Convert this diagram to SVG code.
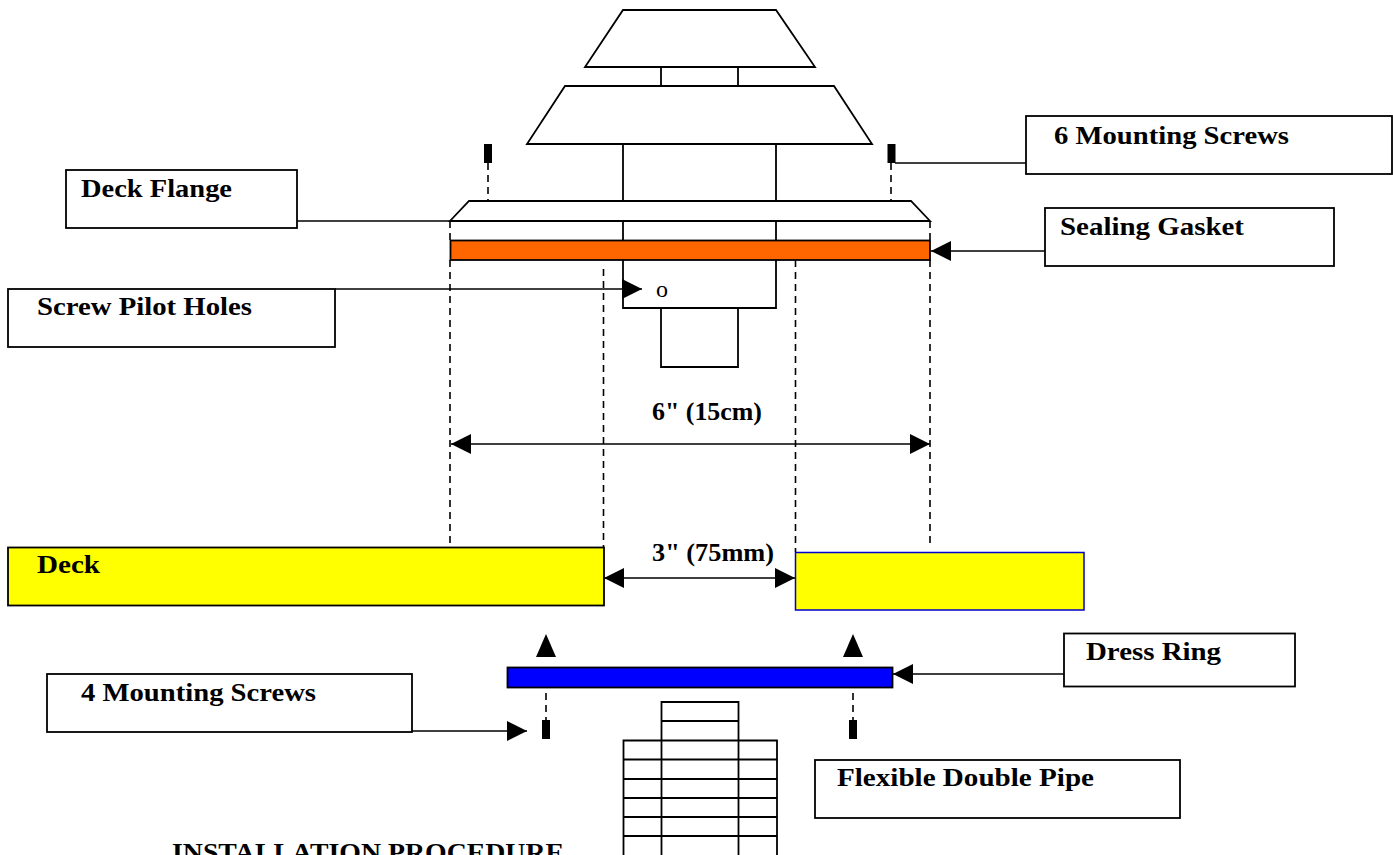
<svg xmlns="http://www.w3.org/2000/svg" width="1393" height="855" viewBox="0 0 1393 855">
<style>
.l{fill:none;stroke:#000;stroke-width:1.800}
.f{fill:#fff;stroke:#000;stroke-width:1.800}
.d{fill:none;stroke:#000;stroke-width:1.600;stroke-dasharray:7 5}
.c{fill:none;stroke:#000;stroke-width:1.500}
.t{font-family:"Liberation Serif","Times New Roman",serif;font-weight:bold;font-size:26px;fill:#000}
.o{font-family:"Liberation Serif","Times New Roman",serif;font-size:24px;fill:#000}
</style>
<defs>
<marker id="a" markerUnits="userSpaceOnUse" markerWidth="21" markerHeight="21" refX="20" refY="10" orient="auto-start-reverse"><path d="M0 0L20 10L0 20Z" fill="#000"/></marker>
</defs>
<rect width="1393" height="855" fill="#fff"/>
<g id="vent-top"><path class="l" d="M623 10H776L815 67H585Z"/><path class="l" d="M661 67V86M738 67V86"/></g>
<g id="vent-mid"><path class="l" d="M565 86H834L872 144H527Z"/><path class="l" d="M623 144V201M776 144V201"/></g>
<g id="deck-flange-part"><path class="l" d="M469 201H911L930 221H450Z"/><path class="l" d="M623 221V240M776 221V240"/></g>
<g id="sealing-gasket-part"><rect x="450.500" y="240.500" width="479.500" height="19.500" fill="#f60" stroke="#000" stroke-width="1.800"/></g>
<g id="lower-body"><path class="l" d="M623 260V308H776V260"/><path class="l" d="M661 308V367H738V308"/><text class="o" x="656" y="297">o</text></g>
<g id="screws-top"><rect x="484" y="144" width="8" height="19" fill="#000"/><rect x="887.500" y="144" width="8" height="19" fill="#000"/></g>
<g id="deck-left"><rect x="8" y="547.500" width="596" height="58" fill="#ff0" stroke="#000" stroke-width="1.800"/><text class="t" x="37" y="573" textLength="63" lengthAdjust="spacingAndGlyphs">Deck</text></g>
<g id="deck-right"><rect x="795.500" y="552.500" width="288.500" height="57.500" fill="#ff0" stroke="#00c" stroke-width="1.500"/></g>
<g id="dress-ring-part"><rect x="507.500" y="667.500" width="385" height="20" fill="#00f" stroke="#000" stroke-width="1.800"/></g>
<g id="screws-bottom"><rect x="542" y="720" width="8" height="19" fill="#000"/><rect x="849" y="720" width="8" height="19" fill="#000"/></g>
<g id="flexible-pipe"><path class="l" d="M661.500 855V702H738.500V855M661.500 721H738.500M623.500 855V740.500H777V855M623.500 740.500H777M623.500 759.500H777M623.500 779H777M623.500 798H777M623.500 817H777M623.500 836H777"/></g>
<g id="label-6-screws"><rect class="f" x="1026" y="116" width="366" height="58"/><text class="t" x="1054" y="144" textLength="235" lengthAdjust="spacingAndGlyphs">6 Mounting Screws</text></g>
<g id="label-deck-flange"><rect class="f" x="66" y="170" width="231" height="58"/><text class="t" x="81" y="197" textLength="151" lengthAdjust="spacingAndGlyphs">Deck Flange</text></g>
<g id="label-sealing"><rect class="f" x="1045" y="208" width="289" height="58"/><text class="t" x="1060" y="235" textLength="184" lengthAdjust="spacingAndGlyphs">Sealing Gasket</text></g>
<g id="label-pilot"><rect class="f" x="8" y="289" width="327" height="58"/><text class="t" x="37" y="315" textLength="215" lengthAdjust="spacingAndGlyphs">Screw Pilot Holes</text></g>
<g id="label-dress"><rect class="f" x="1064" y="633.500" width="231" height="53"/><text class="t" x="1086" y="660" textLength="135" lengthAdjust="spacingAndGlyphs">Dress Ring</text></g>
<g id="label-4-screws"><rect class="f" x="47" y="674" width="365" height="58"/><text class="t" x="81" y="701" textLength="235" lengthAdjust="spacingAndGlyphs">4 Mounting Screws</text></g>
<g id="label-pipe"><rect class="f" x="815" y="760" width="365" height="58"/><text class="t" x="837" y="786" textLength="257" lengthAdjust="spacingAndGlyphs">Flexible Double Pipe</text></g>
<g id="dim-6"><text class="t" x="652" y="420" textLength="110" lengthAdjust="spacingAndGlyphs">6" (15cm)</text></g>
<g id="dim-3"><text class="t" x="652" y="561" textLength="122" lengthAdjust="spacingAndGlyphs">3" (75mm)</text></g>
<g id="title"><text class="t" x="172" y="861" textLength="392" lengthAdjust="spacingAndGlyphs">INSTALLATION PROCEDURE</text></g>
<g id="connectors">
<path class="d" d="M488 163V200M891 163V200"/>
<path class="d" d="M450 221V240M930 221V240M450 260V548M930 260V548M603.500 269V547M795.500 260V552"/>
<path class="d" d="M546 693V720M853 693V720"/>
<path class="c" d="M895 163H1026"/>
<path class="c" d="M297 221H450"/>
<path class="c" d="M1045 251H931" marker-end="url(#a)"/>
<path class="c" d="M335 289H642" marker-end="url(#a)"/>
<path class="c" d="M451 444H930" marker-start="url(#a)" marker-end="url(#a)"/>
<path class="c" d="M604 578H795" marker-start="url(#a)" marker-end="url(#a)"/>
<path class="c" d="M1064 674H893" marker-end="url(#a)"/>
<path class="c" d="M412 731H527" marker-end="url(#a)"/>
<path d="M546 634L556 657H536Z" fill="#000"/>
<path d="M853 634L863 657H843Z" fill="#000"/>
</g>
</svg>
